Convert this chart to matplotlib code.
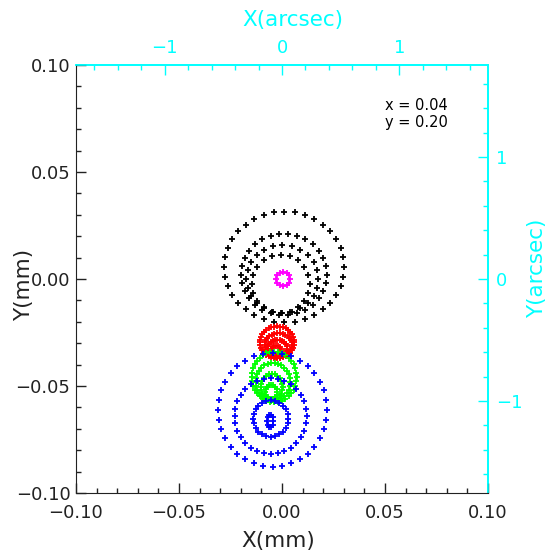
import numpy as np
import matplotlib
matplotlib.use('Agg')
import matplotlib.pyplot as plt
from matplotlib.ticker import MultipleLocator, FuncFormatter, FixedLocator

# plate scale (mm per arcsec)
MM_PER_ARCSEC = 0.057

# ---- spot rings (mm): centre x, centre y, radius x, radius y, number of rays ----
black_cx = [0.0011, 0.0009, 0.0002, -0.0006]
black_cy = [0.0056, 0.0021, 0.0000, -0.0023]
black_rx = [0.0291, 0.0209, 0.0175, 0.0141]
black_ry = [0.0259, 0.0189, 0.0159, 0.0136]
black_n = [36, 30, 24, 20]

magenta_cx = [0.0005]
magenta_cy = [0.0000]
magenta_rx = [0.0034]
magenta_ry = [0.0034]
magenta_n = [12]

red_cx = [-0.0024, -0.0017, -0.0022, -0.0029]
red_cy = [-0.0296, -0.0308, -0.0325, -0.0336]
red_rx = [0.0083, 0.0066, 0.0046, 0.0024]
red_ry = [0.0075, 0.0056, 0.0040, 0.0024]
red_n = [36, 30, 24, 16]

green_cx = [-0.0038, -0.0044, -0.0049, -0.0053]
green_cy = [-0.0458, -0.0481, -0.0505, -0.0528]
green_rx = [0.0109, 0.0083, 0.0053, 0.0029]
green_ry = [0.0117, 0.0089, 0.0061, 0.0033]
green_n = [36, 30, 24, 16]

blue_cx = [-0.0046, -0.0055, -0.0055, -0.0058]
blue_cy = [-0.0612, -0.0640, -0.0652, -0.0664]
blue_rx = [0.0265, 0.0175, 0.0085, 0.0015]
blue_ry = [0.0266, 0.0178, 0.0086, 0.0030]
blue_n = [36, 32, 24, 10]

spots = [
    ('black', black_cx, black_cy, black_rx, black_ry, black_n),
    ('#ff00ff', magenta_cx, magenta_cy, magenta_rx, magenta_ry, magenta_n),
    ('#ff0000', red_cx, red_cy, red_rx, red_ry, red_n),
    ('#00ff00', green_cx, green_cy, green_rx, green_ry, green_n),
    ('#0000ff', blue_cx, blue_cy, blue_rx, blue_ry, blue_n),
]

field_text = ['x = 0.04', 'y = 0.20']
x_ticks_mm = [-0.10, -0.05, 0.00, 0.05, 0.10]
y_ticks_mm = [-0.10, -0.05, 0.00, 0.05, 0.10]
arcsec_ticks = [-1, 0, 1]

CYAN = '#00ffff'
W, H = 551, 552
fig = plt.figure(figsize=(W / 100, H / 100), dpi=100)
L, R, T, B = 76, 488, 65, 493
ax = fig.add_axes([L / W, 1 - B / H, (R - L) / W, (B - T) / H])

for color, cxs, cys, rxs, rys, ns in spots:
    for cx, cy, rx, ry, n in zip(cxs, cys, rxs, rys, ns):
        t = np.linspace(0, 2 * np.pi, n, endpoint=False)
        ax.plot(cx + rx * np.cos(t), cy + ry * np.sin(t), linestyle='none',
                marker='+', color=color, markersize=4.2, markeredgewidth=1.3)

ax.set_xlim(-0.1, 0.1)
ax.set_ylim(-0.1, 0.1)

def mmfmt(v, pos):
    s = f"{v:.2f}"
    if s == "-0.00":
        s = "0.00"
    return s.replace('-', '\u2212')

ax.xaxis.set_major_locator(FixedLocator(x_ticks_mm))
ax.yaxis.set_major_locator(FixedLocator(y_ticks_mm))
ax.xaxis.set_minor_locator(MultipleLocator(0.01))
ax.yaxis.set_minor_locator(MultipleLocator(0.01))
ax.xaxis.set_major_formatter(FuncFormatter(mmfmt))
ax.yaxis.set_major_formatter(FuncFormatter(mmfmt))
ax.tick_params(which='both', direction='in', top=False, right=False, colors='#222222')
ax.tick_params(which='major', length=7.2, width=1.0, labelsize=13)
ax.tick_params(which='minor', length=3.6, width=1.0)
ax.tick_params(axis='x', which='major', pad=8)
ax.tick_params(axis='y', which='major', pad=4)
for s in ['left', 'bottom']:
    ax.spines[s].set_color('#222222')
for s in ['top', 'right']:
    ax.spines[s].set_color(CYAN)
    ax.spines[s].set_linewidth(1.2)

def as_fmt(v, pos):
    return f"{int(round(v))}".replace('-', '\u2212')

secx = ax.secondary_xaxis('top', functions=(lambda x: x / MM_PER_ARCSEC,
                                            lambda a: a * MM_PER_ARCSEC))
secx.xaxis.set_major_locator(FixedLocator(arcsec_ticks))
secx.xaxis.set_minor_locator(MultipleLocator(0.2))
secx.xaxis.set_major_formatter(FuncFormatter(as_fmt))
secx.tick_params(which='both', direction='in', colors=CYAN)
secx.tick_params(which='major', length=7.2, width=1.0, labelsize=13, pad=6)
secx.tick_params(which='minor', length=3.6, width=1.0)
secx.spines['top'].set_color(CYAN)
secx.spines['top'].set_linewidth(1.2)

secy = ax.secondary_yaxis('right', functions=(lambda y: y / MM_PER_ARCSEC,
                                              lambda a: a * MM_PER_ARCSEC))
secy.yaxis.set_major_locator(FixedLocator(arcsec_ticks))
secy.yaxis.set_minor_locator(MultipleLocator(0.2))
secy.yaxis.set_major_formatter(FuncFormatter(as_fmt))
secy.tick_params(which='both', direction='in', colors=CYAN)
secy.tick_params(which='major', length=7.2, width=1.0, labelsize=13, pad=6)
secy.tick_params(which='minor', length=3.6, width=1.0)
secy.spines['right'].set_color(CYAN)
secy.spines['right'].set_linewidth(1.2)

lab_fs = 15.5
fig.text(278 / W, 1 - 541 / H, 'X(mm)', ha='center', va='center', fontsize=lab_fs, color='#222222')
fig.text(24 / W, 1 - 285 / H, 'Y(mm)', ha='center', va='center', fontsize=lab_fs,
         color='#222222', rotation=90)
fig.text(293 / W, 1 - 20 / H, 'X(arcsec)', ha='center', va='center', fontsize=lab_fs, color=CYAN)
fig.text(537 / W, 1 - 268 / H, 'Y(arcsec)', ha='center', va='center', fontsize=lab_fs,
         color=CYAN, rotation=90)

fig.text(385 / W, 1 - 106 / H, field_text[0], ha='left', va='center', fontsize=10.5, color='black')
fig.text(385 / W, 1 - 123 / H, field_text[1], ha='left', va='center', fontsize=10.5, color='black')

fig.savefig('out.png', dpi=100)
